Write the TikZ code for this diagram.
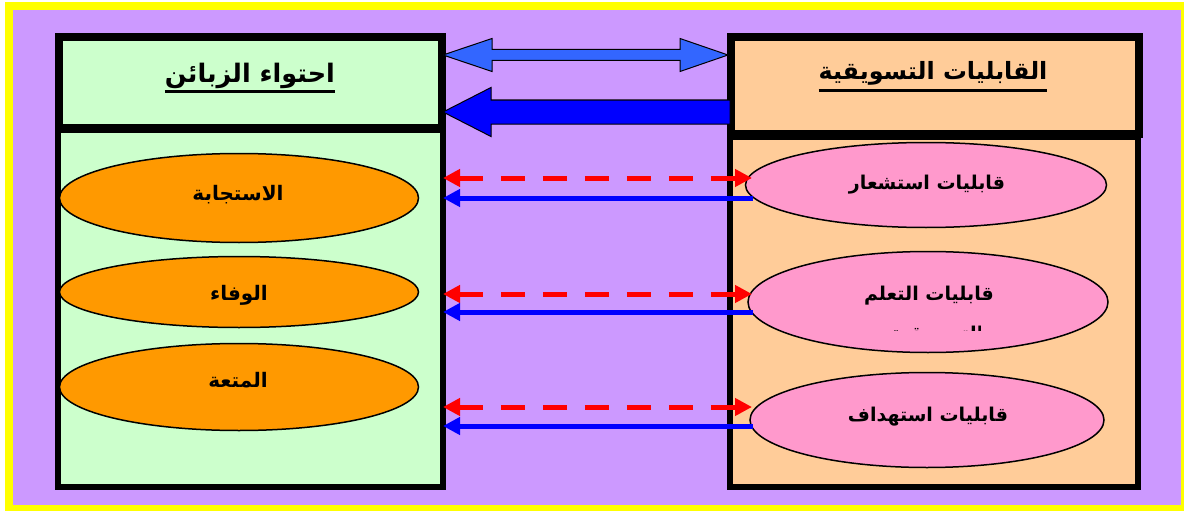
\documentclass[tikz,border=0pt]{standalone}
\usepackage{fontspec}
\usetikzlibrary{arrows.meta,shapes.geometric,calc}
\TeXXeTstate=1
\newfontfamily\arabicfont[Script=Arabic]{DejaVu Sans}
\definecolor{framey}{HTML}{FFFF00}
\definecolor{bgpurple}{HTML}{CC99FF}
\definecolor{lgreen}{HTML}{CCFFCC}
\definecolor{peach}{HTML}{FFCC99}
\definecolor{orangeell}{HTML}{FF9900}
\definecolor{pinkell}{HTML}{FF99CC}
\definecolor{arrblue}{HTML}{3366FF}
\definecolor{deepblue}{HTML}{0000FF}
\definecolor{arrred}{HTML}{FF0000}
\begin{document}
\begin{tikzpicture}[x=1pt,y=-1pt,
  bodybox/.style={draw=black, line width=6pt, rectangle, inner sep=0pt, outer sep=0pt},
  headbox/.style={draw=black, line width=8pt, rectangle, inner sep=0pt, outer sep=0pt},
  titletext/.style={inner sep=0pt, outer sep=0pt, anchor=base, font=\arabicfont\bfseries\fontsize{25}{30}\selectfont},
  lell/.style={ellipse, draw=black, line width=1.5pt, fill=orangeell, inner sep=0pt, minimum width=359pt},
  rell/.style={ellipse, draw=black, line width=1.5pt, fill=pinkell, inner sep=0pt},
  ltext/.style={inner sep=0pt, anchor=base, font=\arabicfont\bfseries\fontsize{20}{24}\selectfont},
  rtext/.style={inner sep=0pt, anchor=base, font=\arabicfont\bfseries\fontsize{19}{23}\selectfont},
  redarr/.style={draw=arrred, line width=5pt, dash pattern=on 24pt off 18pt,
     {Triangle[length=17pt,width=17pt]}-{Triangle[length=17pt,width=17pt]}},
  bluearr/.style={draw=deepblue, line width=5pt, -{Triangle[length=17pt,width=17pt]}},
  bigarrow/.style={draw=black, line width=1pt}
]
\useasboundingbox (0,0) rectangle (1184,511);
% frame and background
\fill[white] (0,0) rectangle (1184,511);
\fill[framey] (5,2) rectangle (1190,516);
\fill[bgpurple] (13,10) rectangle (1181,505);

% left column: customer containment
\node[bodybox, fill=lgreen, minimum width=385pt, minimum height=357pt] (leftBody) at (250.5,308.5) {};
\node[headbox, fill=lgreen, minimum width=383pt, minimum height=91pt] (leftHead) at (250.5,82.5) {};
\node[titletext, font=\arabicfont\bfseries\fontsize{25.5}{30}\selectfont] (leftTitle) at (250,82) {\beginR احتواء الزبائن\endR};
\draw[line width=3pt] ($(leftTitle.base west)+(0,10)$) -- ($(leftTitle.base east)+(0,10)$);

% right column: marketing capabilities
\node[bodybox, fill=peach, minimum width=408pt, minimum height=350pt] (rightBody) at (934,312) {};
\node[headbox, fill=peach, minimum width=408pt, minimum height=97pt] (rightHead) at (935,85.5) {};
\node[titletext, font=\arabicfont\bfseries\fontsize{23.8}{28}\selectfont] (rightTitle) at (933,80) {\beginR القابليات التسويقية\endR};
\draw[line width=3pt] ($(rightTitle.base west)+(0,11)$) -- ($(rightTitle.base east)+(0,11)$);

% left ellipses
\node[lell, minimum height=89pt] (lE1) at (239,198) {};
\node[lell, minimum height=71pt] (lE2) at (239,292) {};
\node[lell, minimum height=87pt] (lE3) at (239,387) {};
\node[ltext] (lT1) at (238,200) {\beginR الاستجابة\endR};
\node[ltext] (lT2) at (239,300) {\beginR الوفاء\endR};
\node[ltext] (lT3) at (238,387) {\beginR المتعة\endR};

% right ellipses
\node[rell, minimum width=361pt, minimum height=85pt] (rE1) at (926,185) {};
\node[rell, minimum width=360pt, minimum height=101pt] (rE2) at (928,302) {};
\node[rell, minimum width=354pt, minimum height=95pt] (rE3) at (927,420) {};
\node[rtext] (rT1) at (927,189) {\beginR قابليات استشعار\endR};
\node[rtext] (rT2) at (929,300) {\beginR قابليات التعلم\endR};
\begin{scope}
  \clip (880,318) rectangle (980,330);
  \node[rtext] (rT2b) at (937,340) {\beginR التسويقية\endR};
\end{scope}
\node[rtext] (rT3) at (928,421) {\beginR قابليات استهداف\endR};

% top connectors between the two headers
\coordinate (dl) at ($(leftHead.east |- 0,55)+(1,0)$);
\coordinate (dr) at ($(rightHead.west |- 0,55)+(-3,0)$);
\filldraw[bigarrow, fill=arrblue] (dl) -- ++(49,-16.5) -- ++(0,11) -- ($(dr)+(-48,-5.5)$) -- ++(0,-11)
  -- (dr) -- ++(-48,16.5) -- ++(0,-11) -- ($(dl)+(49,5.5)$) -- ++(0,11) -- cycle;
\coordinate (bl) at ($(leftHead.east |- 0,112)+(1,0)$);
\coordinate (br) at ($(rightHead.west |- 0,112)+(-1,0)$);
\filldraw[bigarrow, fill=deepblue] (bl) -- ++(48,-24.5) -- ++(0,12.5) -- ($(br)+(0,-12)$) -- ++(0,24)
  -- ($(bl)+(48,12)$) -- ++(0,12.5) -- cycle;

% ellipse-to-ellipse connectors
\coordinate (r1) at (752,178);
\coordinate (r2) at (752,294);
\coordinate (r3) at (752,407);
\coordinate (b1) at (753,198);
\coordinate (b2) at (753,312);
\coordinate (b3) at (753,426);
\draw[redarr] (leftBody.east |- r1) -- (r1);
\draw[redarr] (leftBody.east |- r2) -- (r2);
\draw[redarr] (leftBody.east |- r3) -- (r3);
\draw[bluearr] (b1) -- (leftBody.east |- b1);
\draw[bluearr] (b2) -- (leftBody.east |- b2);
\draw[bluearr] (b3) -- (leftBody.east |- b3);
\end{tikzpicture}
\end{document}
